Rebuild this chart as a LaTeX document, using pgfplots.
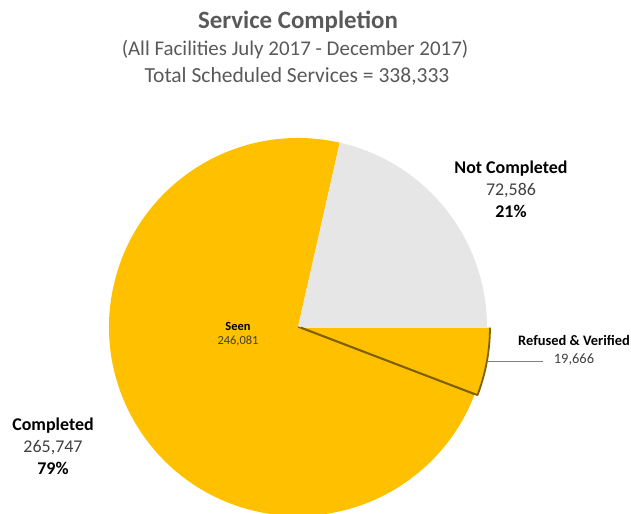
\documentclass[border=0pt]{standalone}
\usepackage{pgfplots}
\pgfplotsset{compat=1.18}
\usepackage{pgfplotstable}
\usepackage{fontspec}
\setmainfont{Carlito}
\definecolor{gold}{HTML}{FFC000}
\definecolor{lgray}{HTML}{E7E6E6}
\definecolor{edge}{HTML}{7F6000}
\definecolor{titlegray}{HTML}{595959}
\definecolor{txt}{HTML}{404040}

% slice values
\pgfplotstableread{
part value
Seen 246081
Refused 19666
NotCompleted 72586
}\piedata

\begin{document}
\begin{tikzpicture}
\pgfplotstablegetelem{0}{value}\of\piedata \edef\vSeen{\pgfplotsretval}
\pgfplotstablegetelem{1}{value}\of\piedata \edef\vRef{\pgfplotsretval}
\pgfplotstablegetelem{2}{value}\of\piedata \edef\vNot{\pgfplotsretval}
\edef\aRef{\fpeval{360*\vRef/(\vSeen+\vRef+\vNot)}}
\edef\aNot{\fpeval{360*\vNot/(\vSeen+\vRef+\vNot)}}
\edef\aSeenEnd{\fpeval{360-\aRef}}
\edef\aMid{\fpeval{-\aRef/2}}
\begin{axis}[
    width=631bp, height=514bp, scale only axis,
    xmin=0, xmax=631, ymin=0, ymax=514,
    hide axis, clip=false
]
% pie, centre (298,187), radius 189
\fill[gold] (axis cs:298,187) -- ++(\aNot:189bp)
    arc[start angle=\aNot, end angle=\aSeenEnd, radius=189bp] -- cycle;
\fill[lgray] (axis cs:298,187) -- ++(0:189bp)
    arc[start angle=0, end angle=\aNot, radius=189bp] -- cycle;
\filldraw[fill=gold, draw=edge, line width=1.8bp, line join=round]
    ([shift={(\aMid:3bp)}]axis cs:298,187) -- ++(-\aRef:189bp)
    arc[start angle=-\aRef, end angle=0, radius=189bp];
\draw[edge, line width=1.2bp] (axis cs:298,187) -- ++(-\aRef:189bp);

% leader line
\draw[gray, line width=0.8bp] (axis cs:487,153) -- (axis cs:543,153);

% titles
\node[font=\bfseries\fontsize{25}{29}\selectfont, text=titlegray] at (axis cs:298,492) {Service Completion};
\node[font=\fontsize{21}{25}\selectfont, text=titlegray] at (axis cs:295,464) {(All Facilities July 2017 - December 2017)};
\node[font=\fontsize{21.6}{25}\selectfont, text=titlegray] at (axis cs:297,438) {Total Scheduled Services = 338,333};

% data labels
\node[align=center, font=\fontsize{18}{22}\selectfont] at (axis cs:511,325)
    {\textbf{Not Completed}\\\textcolor{txt}{72,586}\\\textbf{21\%}};
\node[align=center, font=\fontsize{18}{22}\selectfont] at (axis cs:53,68)
    {\textbf{Completed}\\\textcolor{txt}{265,747}\\\textbf{79\%}};
\node[align=center, font=\fontsize{14.5}{17.5}\selectfont] at (axis cs:574,163.5)
    {\textbf{Refused \& Verified}\\\textcolor{txt}{19,666}};
\node[align=center, font=\fontsize{12.5}{14}\selectfont] at (axis cs:238,179.5)
    {\textbf{Seen}\\\textcolor{txt}{246,081}};
\end{axis}
\pgfresetboundingbox
\path (0,0) rectangle (631bp,514bp);
\end{tikzpicture}
\end{document}
